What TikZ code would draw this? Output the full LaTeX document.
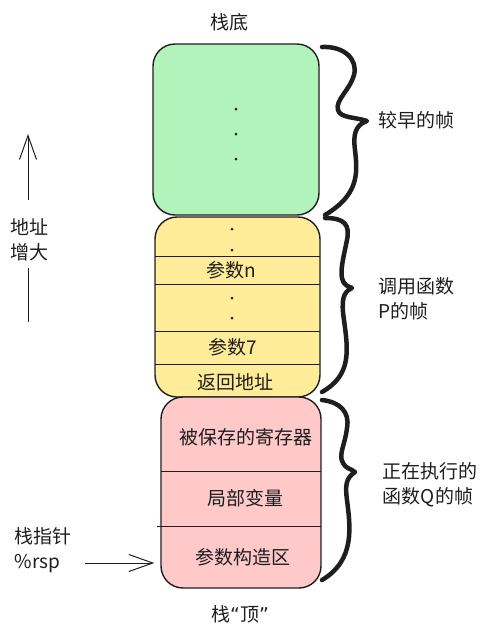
\documentclass[tikz,border=0pt]{standalone}
\usepackage{fontspec}
\setmainfont{Noto Sans CJK SC}
\newfontfamily\quotefont{DejaVu Sans}
\usepackage{tikz}
\usetikzlibrary{arrows.meta}
\definecolor{inkcol}{RGB}{30,30,30}
\definecolor{earlyfill}{RGB}{178,242,187}
\definecolor{callerfill}{RGB}{255,236,153}
\definecolor{calleefill}{RGB}{255,201,201}

\begin{document}
\begin{tikzpicture}[x=1pt,y=-1pt,
    framebox/.style={draw=inkcol, line width=1.4pt, rounded corners=22pt, inner sep=0pt},
    label/.style={text=inkcol, inner sep=0.75pt, font=\fontsize{19}{25}\selectfont},
    sideline/.style={draw=inkcol, line width=1pt},
    bracecurve/.style={draw=inkcol, line width=4.5pt, line cap=round, line join=round},
    sketcharrow/.style={draw=inkcol, line width=1pt, -{Straight Barb[length=24pt,width=17pt,line width=1pt]}},
    stackdot/.style={circle, fill=inkcol, inner sep=0pt, minimum size=3pt}]
        \useasboundingbox (0,0) rectangle (490,641);

        %Shape: Frames
        \node [framebox, fill=earlyfill, minimum width=166pt, minimum height=171pt] (early) at (236,129.5) {};
        \node [framebox, fill=callerfill, minimum width=165pt, minimum height=180pt] (caller) at (237.5,307) {};
        \node [framebox, fill=calleefill, minimum width=160pt, minimum height=191pt] (callee) at (241,492.5) {};

        %Shape: Dividers
        \draw [sideline] (155,256) -- (320,256) ;
        \draw [sideline] (155,284) -- (320,284) ;
        \draw [sideline] (155,331) -- (320,331) ;
        \draw [sideline] (155,364) -- (320,364) ;
        \draw [sideline] (161,471) -- (321,471) ;
        \draw [sideline] (157,526) -- (321,526) ;

        %Shape: Dots
        \node [stackdot] (edot1) at (236,109) {};
        \node [stackdot] (edot2) at (236,134) {};
        \node [stackdot] (edot3) at (236,159) {};
        \node [stackdot] (cdot1) at (232,229) {};
        \node [stackdot] (cdot2) at (232,250) {};
        \node [stackdot] (cdot3) at (232,298) {};
        \node [stackdot] (cdot4) at (232,318) {};

        % Text Node
        \node [label] (bottomtag) at (229,22) {栈底};
        % Text Node
        \node [label] (argn) at (231,270) {参数n};
        % Text Node
        \node [label] (argseven) at (233,347) {参数7};
        % Text Node
        \node [label] (retaddr) at (235,382) {返回地址};
        % Text Node
        \node [label] (savedregs) at (246,437) {被保存的寄存器};
        % Text Node
        \node [label] (locals) at (245,498) {局部变量};
        % Text Node
        \node [label] (argbuild) at (243,557) {参数构造区};
        % Text Node
        \node [label] (toptag) at (240,614) {栈{\quotefont “}顶{\quotefont ”}};

        %Shape: Braces
        \draw [bracecurve] (322,47) .. controls (345,46) and (358,60) .. (354,75) .. controls (350,90) and (335,100) .. (338,110) .. controls (340,118) and (355,117) .. (367,121) .. controls (355,125) and (353,135) .. (355,150) .. controls (358,175) and (358,195) .. (325,215) ;
        \draw [bracecurve] (325,218) .. controls (345,218) and (350,225) .. (347,240) .. controls (344,255) and (340,270) .. (342,278) .. controls (344,286) and (348,286) .. (352,288) .. controls (343,292) and (341,300) .. (344,320) .. controls (348,350) and (352,375) .. (322,392) ;
        \draw [bracecurve] (322,400) .. controls (340,402) and (350,412) .. (347,428) .. controls (345,445) and (338,455) .. (343,463) .. controls (346,469) and (350,468) .. (355,472) .. controls (346,478) and (345,485) .. (347,500) .. controls (350,525) and (356,560) .. (322,580) ;

        % Text Node
        \node [label, anchor=west] (earlytag) at (378,120) {较早的帧};
        % Text Node
        \node [label, anchor=west, align=left] (callertag) at (378,299) {调用函数\\P的帧};
        % Text Node
        \node [label, anchor=west, align=left] (calleetag) at (382,485) {正在执行的\\函数Q的帧};

        % Text Node
        \node [label, align=center] (growtag) at (29,240) {地址\\增大};
        \coordinate (growtip) at (28,134);
        \coordinate (growbase) at (28,200);
        \coordinate (growtail) at (28,268);
        \coordinate (growend) at (28,322);
        \draw [sketcharrow] (growbase) -- (growtip) ;
        \draw [sideline] (growtail) -- (growend) ;

        % Text Node
        \node [label, anchor=west, align=left] (sptag) at (14,550) {栈指针\\\%rsp};
        \coordinate (spstart) at (85,563);
        \draw [sketcharrow] (spstart) -- ([xshift=-6pt]callee.west |- spstart) ;

\end{tikzpicture}
\end{document}
